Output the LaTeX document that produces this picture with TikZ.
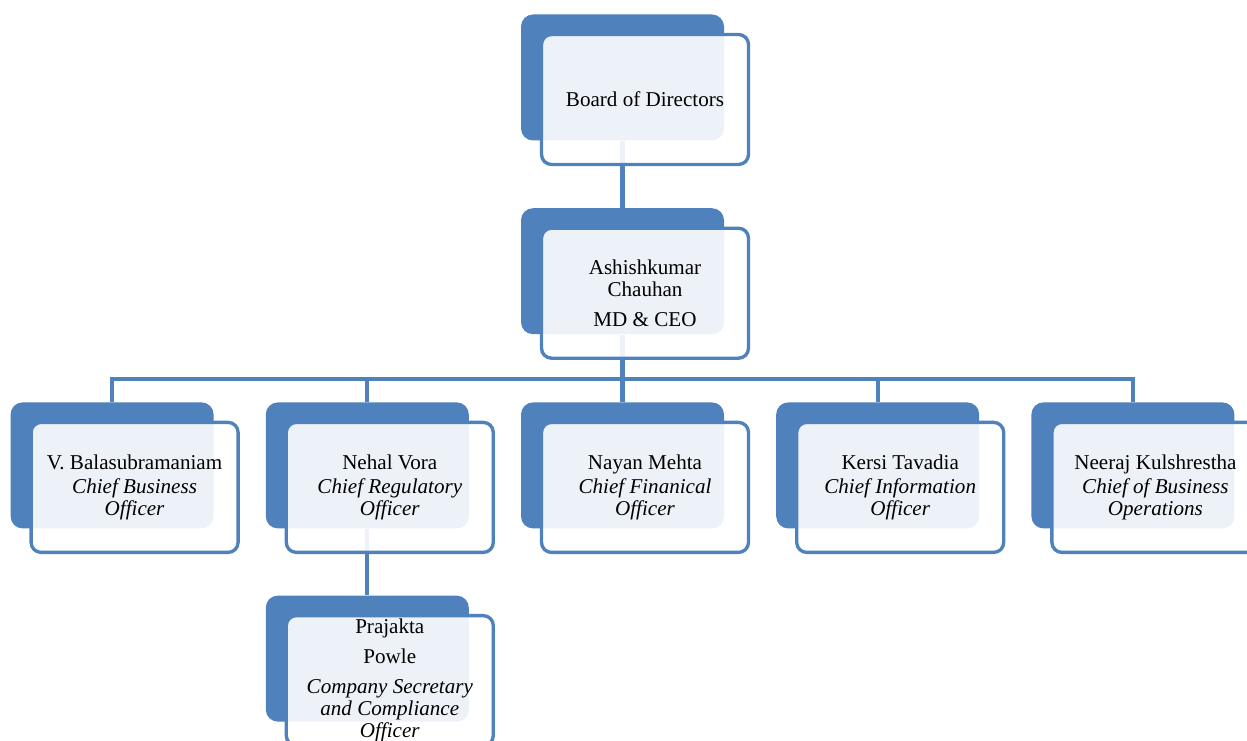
\documentclass[tikz,border=0pt]{standalone}
\usepackage{fontspec}
\setmainfont{Liberation Serif}
\usetikzlibrary{positioning}
\definecolor{boxblue}{RGB}{79,129,189}

\begin{document}
\begin{tikzpicture}[backbox/.style={rectangle, rounded corners=0.24cm, fill=boxblue, minimum width=4.06cm, minimum height=2.52cm, inner sep=0pt},
                    frontbox/.style={rectangle, rounded corners=0.2cm, draw=boxblue, line width=1.9pt, fill=white, fill opacity=0.9, text opacity=1, minimum width=4.14cm, minimum height=2.6cm, inner sep=0pt, align=center, font=\fontsize{12}{12.5}\selectfont},
                    link/.style={draw=boxblue, line width=2.3pt},]
    \clip (0,0) rectangle (24.94,14.8);
    % nodes
    \node[backbox]      (board)     at (12.45,13.25)          {};
    \node[backbox]      (ceo)       [below=1.34cm of board]   {};
    \node[backbox]      (cfo)       [below=1.35cm of ceo]     {};
    \node[backbox]      (cro)       [left=1.03cm of cfo]      {};
    \node[backbox]      (cbo)       [left=1.03cm of cro]      {};
    \node[backbox]      (cio)       [right=1.03cm of cfo]     {};
    \node[backbox]      (cbops)     [right=1.03cm of cio]     {};
    \node[backbox]      (cs)        [below=1.33cm of cro]     {};
    % lines
    \draw[link] (board.south) -- (ceo.north);
    \foreach \c in {cbo,cro,cfo,cio,cbops}
        \draw[link] (ceo.south) -- ++(0,-0.89) -| (\c.north);
    \draw[link] (cro.south) -- (cs.north);
    % text boxes
    \node[frontbox]     (boardF)    at ([shift={(0.45,-0.44)}]board)   {Board of Directors};
    \node[frontbox]     (ceoF)      at ([shift={(0.45,-0.44)}]ceo)     {Ashishkumar\\ Chauhan\\[5pt] MD \& CEO};
    \node[frontbox]     (cboF)      at ([shift={(0.45,-0.44)}]cbo)     {V. Balasubramaniam\\[1pt] \textit{Chief Business}\\ \textit{Officer}};
    \node[frontbox]     (croF)      at ([shift={(0.45,-0.44)}]cro)     {Nehal Vora\\[1pt] \textit{Chief Regulatory}\\ \textit{Officer}};
    \node[frontbox]     (cfoF)      at ([shift={(0.45,-0.44)}]cfo)     {Nayan Mehta\\[1pt] \textit{Chief Finanical}\\ \textit{Officer}};
    \node[frontbox]     (cioF)      at ([shift={(0.45,-0.44)}]cio)     {Kersi Tavadia\\[1pt] \textit{Chief Information}\\ \textit{Officer}};
    \node[frontbox]     (cbopsF)    at ([shift={(0.45,-0.44)}]cbops)   {Neeraj Kulshrestha\\[1pt] \textit{Chief of Business}\\ \textit{Operations}};
    \node[frontbox]     (csF)       at ([shift={(0.45,-0.44)}]cs)      {Prajakta\\[4.5pt] Powle\\[4.5pt] \textit{Company Secretary}\\ \textit{and Compliance}\\ \textit{Officer}};
\end{tikzpicture}
\end{document}
